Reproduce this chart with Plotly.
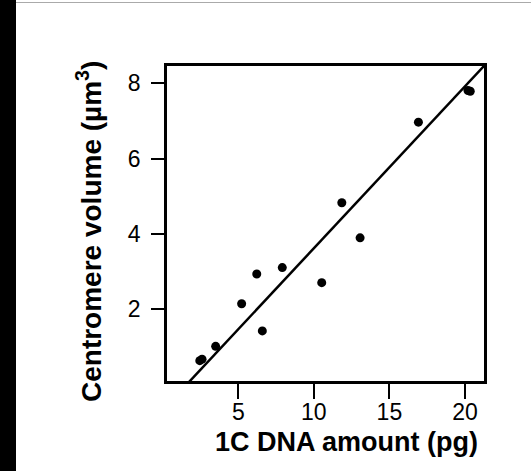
import numpy as np
import plotly.graph_objects as go

# Data
dna_pg = [2.45, 2.6, 3.5, 5.22, 6.22, 6.59, 7.91, 10.52, 11.85, 13.06, 16.92, 20.2, 20.35]
centromere_um3 = [0.64, 0.68, 1.02, 2.15, 2.94, 1.43, 3.11, 2.71, 4.83, 3.90, 6.97, 7.81, 7.79]

fit_slope = 0.4296
fit_intercept = -0.673

x_range = [0.28, 21.26]
y_range = [0.1, 8.46]
x_ticks = [5, 10, 15, 20]
y_ticks = [2, 4, 6, 8]

W, H = 531, 471
ML, MR, MT, MB = 167, 47, 66, 90
PW, PH = W - ML - MR, H - MT - MB

def px_x(p):
    return (p - ML) / PW

def px_y(p):
    return (H - MB - p) / PH

fit_x = np.array(x_range)
fit_y = fit_slope * fit_x + fit_intercept

fig = go.Figure()
fig.add_trace(go.Scatter(x=fit_x, y=fit_y, mode="lines",
                         line=dict(color="black", width=2.5),
                         hoverinfo="skip", showlegend=False))
fig.add_trace(go.Scatter(x=dna_pg, y=centromere_um3, mode="markers",
                         marker=dict(color="black", size=9),
                         showlegend=False, cliponaxis=False))

axis_common = dict(showline=True, mirror=True, linecolor="black", linewidth=2.5,
                   ticks="outside", tickwidth=2, tickcolor="black",
                   showgrid=False, zeroline=False,
                   tickfont=dict(family="Liberation Sans, Arial, sans-serif", size=23, color="black"))

fig.update_xaxes(range=x_range, tickvals=x_ticks, ticklen=15, ticklabelstandoff=-6, **axis_common)
fig.update_yaxes(range=y_range, tickvals=y_ticks, ticklen=13, ticklabelstandoff=6, **axis_common)

title_font = dict(family="Liberation Sans, Arial, sans-serif", size=27, color="black")
fig.add_annotation(text="<b>1C DNA amount (pg)</b>", xref="paper", yref="paper",
                   x=px_x(346), y=px_y(442), xanchor="center", yanchor="middle",
                   showarrow=False, font=title_font)
fig.add_annotation(text="<b>Centromere volume (µm<sup>3</sup>)</b>", xref="paper", yref="paper",
                   x=px_x(89), y=px_y(232), xanchor="center", yanchor="middle",
                   textangle=-90, showarrow=False,
                   font=dict(family="Liberation Sans, Arial, sans-serif", size=28, color="black"))

# black frame on left and thin grey line at top
fig.add_shape(type="rect", xref="paper", yref="paper",
              x0=px_x(0), x1=px_x(16), y0=px_y(H), y1=px_y(0),
              fillcolor="black", line=dict(width=0), layer="above")
fig.add_shape(type="line", xref="paper", yref="paper",
              x0=px_x(16), x1=px_x(W), y0=px_y(2.5), y1=px_y(2.5),
              line=dict(color="#aaaaaa", width=1))

fig.update_layout(width=W, height=H, margin=dict(l=ML, r=MR, t=MT, b=MB),
                  plot_bgcolor="white", paper_bgcolor="white")

fig.write_html("out.html", config={"displayModeBar": False},
               post_script="document.body.style.margin='0';document.body.style.overflow='hidden';")
